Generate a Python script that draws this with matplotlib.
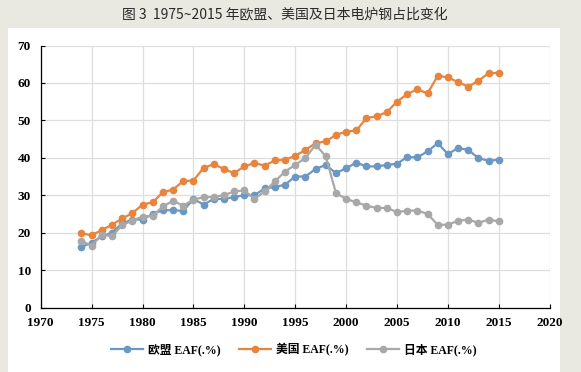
import matplotlib
matplotlib.use("Agg")
import matplotlib.pyplot as plt
from matplotlib.patches import Rectangle

years = list(range(1974, 2016))
eu = [16.2, 17.3, 19.0, 20.0, 22.5, 23.5, 23.5, 25.0, 26.0, 26.0, 25.8, 29.0,
      27.5, 29.0, 29.0, 29.5, 30.0, 30.0, 31.8, 32.2, 32.8, 35.0, 35.0, 37.0,
      38.1, 35.9, 37.2, 38.7, 37.7, 37.7, 38.1, 38.4, 40.2, 40.1, 41.7, 43.9,
      41.0, 42.6, 42.1, 39.9, 39.2, 39.5]
us = [19.8, 19.3, 20.7, 22.1, 23.8, 25.2, 27.5, 28.1, 30.8, 31.5, 33.8, 33.9,
      37.3, 38.3, 37.0, 35.9, 37.7, 38.6, 37.9, 39.3, 39.5, 40.5, 42.1, 43.9,
      44.4, 46.1, 47.0, 47.3, 50.6, 51.1, 52.2, 55.0, 57.0, 58.3, 57.2, 61.9,
      61.5, 60.2, 59.0, 60.6, 62.6, 62.7]
jp = [17.8, 16.5, 19.5, 19.0, 22.0, 23.2, 24.3, 24.5, 27.0, 28.5, 27.2, 28.8,
      29.5, 29.5, 30.0, 31.0, 31.3, 29.0, 31.0, 33.7, 36.3, 38.1, 39.9, 43.5,
      40.4, 30.6, 29.0, 28.1, 27.2, 26.6, 26.6, 25.5, 25.9, 25.9, 25.0, 22.1,
      22.1, 23.2, 23.5, 22.6, 23.5, 23.0]
series_names = ["欧盟 EAF(.%)", "美国 EAF(.%)", "日本 EAF(.%)"]
x_ticks = list(range(1970, 2021, 5))
y_ticks = list(range(0, 71, 10))
title = "图 3  1975~2015 年欧盟、美国及日本电炉钢占比变化"

W, H = 581, 372
fig = plt.figure(figsize=(W / 100, H / 100), dpi=100)
fig.patch.set_facecolor("#e9e9e2")
fig.patches.append(Rectangle((8 / W, 0), (560 - 8) / W, (H - 28) / H,
                             transform=fig.transFigure, facecolor="white",
                             edgecolor="none", zorder=-10))

fig.text(0.49, 1 - 14 / H, title, ha="center", va="center", fontsize=10,
         color="#2a2a2a", fontweight="medium",
         family=["Noto Sans CJK SC", "DejaVu Sans"])

left, right = 40.7, 549.7
top, bottom = 45.5, 307.5
ax = fig.add_axes([left / W, 1 - bottom / H, (right - left) / W, (bottom - top) / H])
ax.set_facecolor("none")

colors = ["#6b98c2", "#e8843c", "#a8a8a8"]
for vals, name, c in zip([eu, us, jp], series_names, colors):
    ax.plot(years, vals, color=c, lw=1.6, marker="o", ms=4.5,
            markeredgecolor=c, label=name)

ax.set_xlim(1970, 2020)
ax.set_ylim(0, 70)
ax.set_xticks(x_ticks)
ax.set_yticks(y_ticks)
ax.grid(True, color="#dedede", lw=0.9)
ax.set_axisbelow(True)
for s in ["top", "right"]:
    ax.spines[s].set_visible(False)
for s in ["left", "bottom"]:
    ax.spines[s].set_color("black")
    ax.spines[s].set_linewidth(0.9)
ax.tick_params(direction="in", length=3, width=0.8, colors="black",
               labelsize=9.5)
ax.tick_params(axis="x", pad=7)
ax.tick_params(axis="y", pad=7)
for lab in ax.get_xticklabels() + ax.get_yticklabels():
    lab.set_family("Liberation Serif")
    lab.set_fontweight("bold")

leg = fig.legend(loc="center", bbox_to_anchor=(0.506, 1 - 350 / H), ncol=3,
                 frameon=False, handlelength=2.7, columnspacing=1.6,
                 handletextpad=0.4,
                 prop={"family": ["Liberation Serif", "Noto Sans CJK SC"],
                       "weight": "bold", "size": 8.5})

fig.savefig("out.png", dpi=100, facecolor=fig.get_facecolor())
